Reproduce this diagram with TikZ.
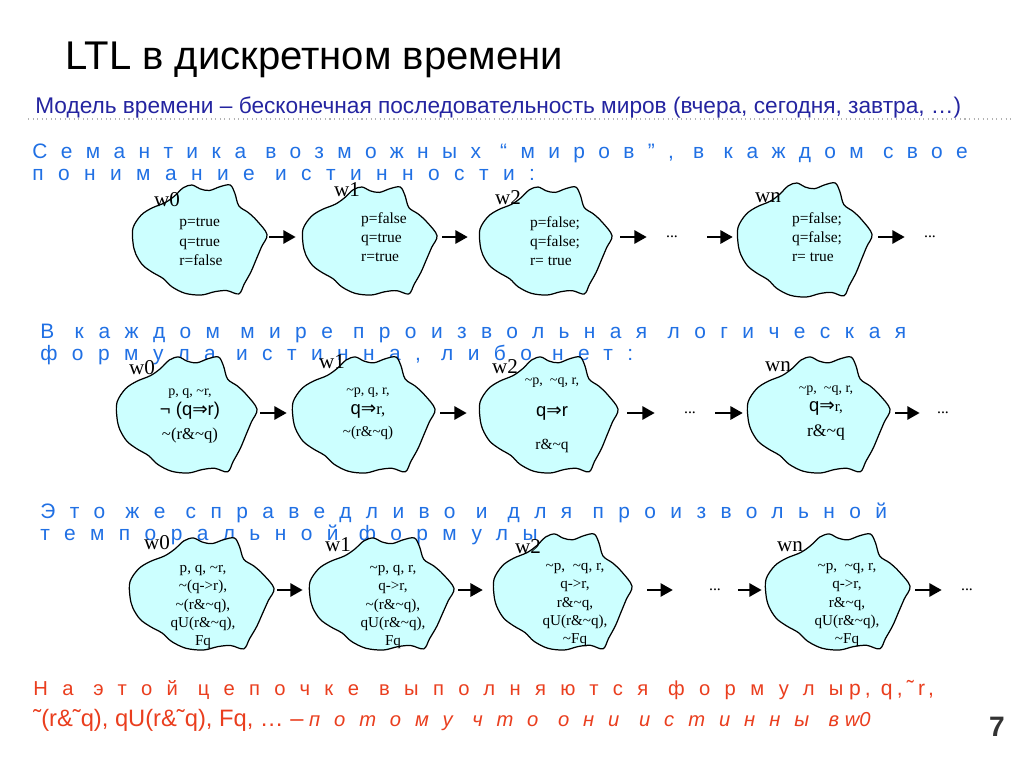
\documentclass[tikz,border=0pt]{standalone}
\usepackage{fontspec}
\setmainfont{Liberation Sans}
\newfontfamily\timesfont{Liberation Serif}
\newfontfamily\arialfont{Liberation Sans}
\newfontfamily\arrowfont{DejaVu Sans}
\newfontfamily\spacedfont{Liberation Sans}[LetterSpace=69]
\usepackage{tikz}
\usetikzlibrary{arrows.meta,positioning}
\definecolor{SlideBlue}{RGB}{36,36,160}
\definecolor{SpacedBlue}{RGB}{32,112,228}
\definecolor{SlideRed}{RGB}{234,62,30}
\definecolor{CloudCyan}{RGB}{204,255,255}
\newcommand\tildech{\textasciitilde}
\tikzset{
  blob/.pic={
    \draw[line width=0.7pt, fill=CloudCyan] plot[smooth cycle, tension=0.55] coordinates {
      (-1.00,-0.22) (-0.88,-0.45) (-0.72,-0.58) (-0.52,-0.68) (-0.38,-0.80)
      (-0.25,-0.95) (-0.12,-1.00) (0.00,-0.93) (0.14,-0.90) (0.30,-0.97)
      (0.45,-1.00) (0.52,-0.85) (0.58,-0.62) (0.72,-0.50) (0.85,-0.35)
      (1.00,-0.10) (0.92,0.12) (0.84,0.35) (0.76,0.58) (0.66,0.80)
      (0.58,0.98) (0.40,0.92) (0.22,0.94) (0.02,1.00) (-0.22,0.97)
      (-0.42,0.85) (-0.55,0.70) (-0.72,0.58) (-0.86,0.45) (-0.96,0.25)
      (-1.00,0.05)};
  }
}

\begin{document}
\begin{tikzpicture}[x=0.02cm,y=-0.02cm,
  flow/.style={-{Triangle[length=7pt,width=7.5pt]}, line width=1.3pt},
  gap/.style 2 args={shorten <=#1, shorten >=#2},
  wlabel/.style={font=\timesfont\fontsize{12pt}{12pt}\selectfont, inner sep=0pt},
  wtext/.style={font=\timesfont\fontsize{8.8pt}{11pt}\selectfont, inner sep=0pt, align=left},
  ctext/.style={font=\timesfont\fontsize{8.6pt}{10.5pt}\selectfont, inner sep=0pt, align=center},
  dotsnode/.style={font=\timesfont\fontsize{9pt}{9pt}\selectfont, minimum width=0.9cm, inner sep=0pt},
  spaced/.style={anchor=base west, inner sep=0pt, text=SpacedBlue, font=\spacedfont\fontsize{11.9pt}{12.5pt}\selectfont}]

\useasboundingbox[fill=white] (0,0) rectangle (1024,767);

% heading
\node[anchor=base west, inner sep=0pt, font=\fontsize{22.8pt}{24pt}\selectfont] (title) at (65,70) {LTL в дискретном времени};
\node[anchor=base west, inner sep=0pt, text=SlideBlue, font=\fontsize{12.9pt}{13pt}\selectfont] (sub) at (35,113) {Модель времени – бесконечная последовательность миров (вчера, сегодня, завтра, …)};
\draw[gray!60, dotted, line width=0.6pt] (28,119) -- (1014,119);

% worlds with values
\node[spaced] (s1a) at (32,158) {\addfontfeature{LetterSpace=64}Семантика возможных “миров”, в каждом свое};
\node[spaced] (s1b) at (32,180) {понимание истинности:};
\foreach \nm/\cx/\cy/\hw/\hh/\lx/\ly/\lab in {a0/200/240/67/55/167/200/w0, a1/370/241/67/54/347/190/w1,
    a2/546/241/66/54/508/198/w2, an/805/240/67/57/768/198/wn} {
  \pic[xscale=\hw, yscale=\hh] at (\cx,\cy) {blob};
  \pgfmathsetmacro\bw{\hw*0.04}
  \pgfmathsetmacro\bh{\hh*0.04}
  \node[minimum width=\bw cm, minimum height=\bh cm, inner sep=0pt] (\nm) at (\cx,237) {};
  \node[wlabel] (\nm-l) at (\lx,\ly) {\lab};
}
\node[wtext] (a0-t) at (201,242) {p=true\\q=true\\r=false};
\node[wtext] (a1-t) at (384,237) {p=false\\q=true\\r=true};
\node[wtext] (a2-t) at (555,241) {p=false;\\q=false;\\r= true};
\node[wtext] (an-t) at (817,237) {p=false;\\q=false;\\r= true};
\node[dotsnode] (ad1) at (672,237) {...};
\node[dotsnode] (ad2) at (930,237) {...};
\draw[flow, gap={1.1pt}{4pt}] (a0) -- (a1);
\draw[flow, gap={2.8pt}{6.8pt}] (a1) -- (a2);
\draw[flow, gap={4.5pt}{1.4pt}] (a2) -- (ad1);
\draw[flow, gap={7pt}{2.8pt}] (ad1) -- (an);
\draw[flow, gap={3.4pt}{1.4pt}] (an) -- (ad2);

% worlds with formulas
\node[spaced] (s2a) at (40,338) {В каждом мире произвольная логическая};
\node[spaced] (s2b) at (40,360) {формула истинна, либо нет:};
\foreach \nm/\cx/\cy/\hw/\hh/\lx/\ly/\lab in {b0/187/415/70/58/142/368/w0, b1/364/415/71/58/332/362/w1,
    b2/549/415/69/58/505/367/w2, bn/819/415/71/58/778/367/wn} {
  \pic[xscale=\hw, yscale=\hh] at (\cx,\cy) {blob};
  \pgfmathsetmacro\bw{\hw*0.04}
  \pgfmathsetmacro\bh{\hh*0.04}
  \node[minimum width=\bw cm, minimum height=\bh cm, inner sep=0pt] (\nm) at (\cx,413) {};
  \node[wlabel] (\nm-l) at (\lx,\ly) {\lab};
}
\node[ctext] (b0-t) at (190,416) {{\fontsize{8pt}{9pt}\selectfont p, q, \tildech r,}\\[1pt]
  {\arialfont\fontsize{10.5pt}{12pt}\selectfont ¬ (q{\arrowfont ⇒}r)}\\[3pt]
  {\fontsize{9.5pt}{11pt}\selectfont \tildech(r\&\tildech q)}};
\node[ctext] (b1-t) at (368,414) {{\fontsize{8pt}{9pt}\selectfont \tildech p, q, r,}\\[1pt]
  {\arialfont\fontsize{10.5pt}{12pt}\selectfont q{\arrowfont ⇒}}{\fontsize{9.5pt}{11pt}\selectfont r,}\\[2pt]
  {\fontsize{8.5pt}{10pt}\selectfont \tildech(r\&\tildech q)}};
\node[ctext] (b2-t) at (552,415) {{\fontsize{8pt}{9pt}\selectfont \tildech p, \ \tildech q, r,}\\[8pt]
  {\arialfont\fontsize{10.5pt}{12pt}\selectfont q{\arrowfont ⇒}r}\\[8pt]
  {\fontsize{8.8pt}{10pt}\selectfont r\&\tildech q}};
\node[ctext] (bn-t) at (826,413) {{\fontsize{8pt}{9pt}\selectfont \tildech p, \ \tildech q, r,}\\[0pt]
  {\arialfont\fontsize{10.5pt}{12pt}\selectfont q{\arrowfont ⇒}}{\fontsize{8.5pt}{10pt}\selectfont r,}\\[4pt]
  {\fontsize{10pt}{11pt}\selectfont r\&\tildech q}};
\node[dotsnode] (bd1) at (690,413) {...};
\node[dotsnode] (bd2) at (943,413) {...};
\draw[flow, gap={1.7pt}{3.4pt}] (b0) -- (b1);
\draw[flow, gap={2.8pt}{7.4pt}] (b1) -- (b2);
\draw[flow, gap={5.1pt}{7.1pt}] (b2) -- (bd1);
\draw[flow, gap={1.4pt}{2.8pt}] (bd1) -- (bn);
\draw[flow, gap={2.8pt}{0.3pt}] (bn) -- (bd2);

% worlds with temporal formulas
\node[spaced] (s3a) at (40,518) {Это же справедливо и для произвольной};
\node[spaced] (s3b) at (40,540) {темпоральной формулы};
\foreach \nm/\cx/\cy/\hw/\hh/\lx/\ly/\lab in {c0/202/594/72/56/157/543/w0, c1/382/594/72/56/338/545/w1,
    c2/563/592/69/58/528/547/w2, cn/838/592/72/58/790/547/wn} {
  \pic[xscale=\hw, yscale=\hh] at (\cx,\cy) {blob};
  \pgfmathsetmacro\bw{\hw*0.04}
  \pgfmathsetmacro\bh{\hh*0.04}
  \node[minimum width=\bw cm, minimum height=\bh cm, inner sep=0pt] (\nm) at (\cx,590) {};
  \node[wlabel] (\nm-l) at (\lx,\ly) {\lab};
}
\node[ctext] (c0-t) at (203,607) {p, q, \tildech r,\\\tildech(q->r),\\\tildech(r\&\tildech q),\\qU(r\&\tildech q),\\Fq};
\node[ctext] (c1-t) at (393,607) {\tildech p, q, r,\\q->r,\\\tildech(r\&\tildech q),\\qU(r\&\tildech q),\\Fq};
\node[ctext] (c2-t) at (575,605) {\tildech p, \ \tildech q, r,\\q->r,\\r\&\tildech q,\\qU(r\&\tildech q),\\\tildech Fq};
\node[ctext] (cn-t) at (847,605) {\tildech p, \ \tildech q, r,\\q->r,\\r\&\tildech q,\\qU(r\&\tildech q),\\\tildech Fq};
\node[dotsnode] (cd1) at (715,590) {...};
\node[dotsnode] (cd2) at (967,590) {...};
\draw[flow, gap={1.7pt}{4pt}] (c0) -- (c1);
\draw[flow, gap={2.3pt}{6.2pt}] (c1) -- (c2);
\draw[flow, gap={8.5pt}{11pt}] (c2) -- (cd1);
\draw[flow, gap={0pt}{2.3pt}] (cd1) -- (cn);
\draw[flow, gap={2.8pt}{1.4pt}] (cn) -- (cd2);

% conclusion
\node[anchor=base west, inner sep=0pt, text=SlideRed, font=\fontsize{11.5pt}{12pt}\selectfont] (r1) at (33,695)
  {{\spacedfont\addfontfeature{LetterSpace=71}На этой цепочке выполняются формулы} {\fontsize{12pt}{13pt}\selectfont\addfontfeature{LetterSpace=20}p, q,˜r,}};
\node[anchor=base west, inner sep=0pt, text=SlideRed, font=\fontsize{11.5pt}{12pt}\selectfont] (r2) at (33,726)
  {{\fontsize{13.5pt}{14pt}\selectfont ˜(r\&˜q), qU(r\&˜q), Fq, … –} {\spacedfont\itshape потому что они истинны в} {\itshape w0}};
\node[font=\bfseries\fontsize{16pt}{16pt}\selectfont, text=black!80] (pg) at (997,727) {7};
\end{tikzpicture}
\end{document}
